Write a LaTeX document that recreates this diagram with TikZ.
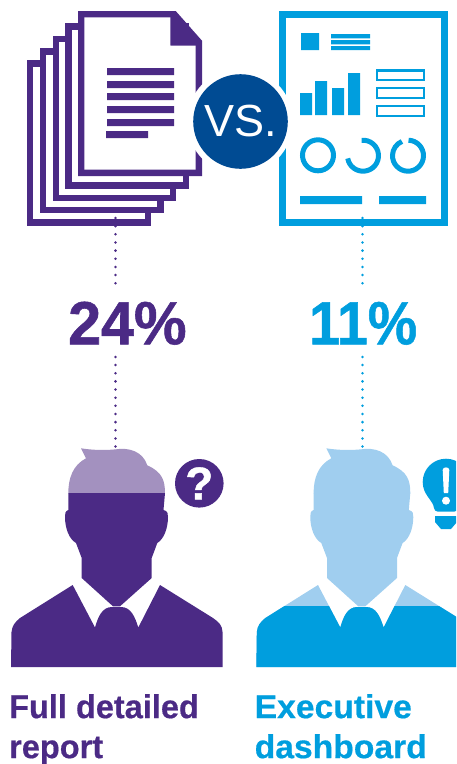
\documentclass[tikz,border=0pt]{standalone}
\usepackage{fontspec}
\setmainfont{Liberation Sans}
\newfontfamily\heavyface[BoldFeatures={FakeBold=0.9}]{Liberation Sans}
\newfontfamily\midface[BoldFeatures={FakeBold=0.5}]{Liberation Sans}
\definecolor{purp}{HTML}{4B2A85}
\definecolor{purplt}{HTML}{A391BF}
\definecolor{sky}{HTML}{009EDE}
\definecolor{skylt}{HTML}{A0CEEF}
\definecolor{navy}{HTML}{004B93}
\tikzset{
  sheet/.style={draw=purp,line width=6.3pt,fill=white,miter limit=10},
  ringline/.style={draw=sky,line width=5pt},
  minirect/.style={draw=sky,line width=2.2pt,fill=white},
  dotsP/.style={draw=purp,line width=2.8pt,line cap=round,dash pattern=on 0pt off 8.15pt},
  dotsS/.style={dotsP,draw=sky},
  pct/.style={anchor=base west,inner sep=0pt,font=\heavyface\bfseries\fontsize{61}{61}\selectfont},
  lbl/.style={anchor=north west,inner sep=0pt,align=left,font=\midface\bfseries\fontsize{33}{40}\selectfont}
}
\newcommand{\hairpath}{(81,448.3) -- (86,458.3) .. controls (73,465) and (68.3,478) .. (68.3,493.3) -- (165,493.3) .. controls (165,480) and (162,472) .. (147.3,465.3) .. controls (143,452) and (130,447) .. (115,449.4) .. controls (103,450.5) and (92,450) .. (81,448.3) -- cycle}
\newcommand{\facepath}{(68.3,493) -- (68.3,510) .. controls (65,511) and (65,514) .. (65,517) .. controls (65,528) and (69,539) .. (76,543) -- (81.7,558) -- (81.7,578) -- (113,606.3) -- (120,606.3) -- (151.7,578) -- (151.7,558) -- (157.3,543) .. controls (164,539) and (168,528) .. (168,517) .. controls (168,514) and (168,511) .. (163.5,510) -- (165,493) -- cycle}
\newcommand{\bodypath}{(72.7,585) -- (95,627.5) .. controls (98,617) and (102,607) .. (112,607) -- (121,607) .. controls (131,607) and (135,617) .. (138.3,627.5) -- (160,585) -- (213,618) .. controls (219,622) and (222.5,626) .. (222.5,632) -- (222.7,667) -- (11,667) -- (11.5,632) .. controls (12,626) and (15,622) .. (20,618) -- cycle}
\begin{document}
\begin{tikzpicture}[x=1pt,y=-1pt]
\useasboundingbox (0,0) rectangle (456,764);
\clip (0,0) rectangle (456,764);
% document stack
\draw[sheet] (30.15,63.45) rectangle (147.85,222.55);
\draw[sheet] (42.85,51.45) rectangle (160.55,210.15);
\draw[sheet] (55.85,39.15) rectangle (173.15,198.15);
\draw[sheet] (68.45,26.45) rectangle (186.15,185.55);
\fill[purp] (78,11) -- (175.7,11) -- (202,40.7) -- (202,176) -- (78,176) -- cycle;
\fill[white] (84.3,17.3) -- (170.3,17.3) -- (170.3,45.7) -- (195.7,45.7) -- (195.7,169.7) -- (84.3,169.7) -- cycle;
\fill[purp] (107,68) rectangle (174,75) (107,81) rectangle (174,88) (107,93) rectangle (174,100) (107,106) rectangle (174,113) (107,119) rectangle (174,126) (106,131) rectangle (148,138);
% dashboard
\draw[draw=sky,line width=7pt] (282.6,14.5) rectangle (444.4,222);
\fill[sky] (301,33) rectangle (319,50) (331,34) rectangle (370,38.3) (331,40) rectangle (370,44.3) (331,46) rectangle (370,50);
\fill[sky] (300,93) rectangle (312,115) (315,81) rectangle (327,115) (332,88) rectangle (344,115) (348,73) rectangle (360,115);
\draw[minirect] (376.8,70.4) rectangle (424.2,79.9);
\draw[minirect] (376.8,88.1) rectangle (424.2,97.6);
\draw[minirect] (376.8,106.1) rectangle (424.2,115.6);
\draw[ringline] (318,155.3) circle (15.5);
\draw[ringline] (363,155.7) ++(-95:15.5) arc (-95:170:15.5);
\draw[ringline] (408,155.7) ++(-88:15.5) arc (-88:247:15.5);
\fill[sky] (300,196) rectangle (362,204) (379,196) rectangle (426,204);
% vs badge
\fill[white] (240,121.5) circle (53);
\node[circle,fill=navy,minimum size=94.6pt,inner sep=0pt,text=white,font=\fontsize{45}{45}\selectfont] (vs) at (240.5,121.5) {VS.};
% percentages
\node[pct,text=purp,xscale=.97,transform shape] (pctL) at (68,344.3) {24\%};
\node[pct,text=sky,xscale=.91,transform shape] (pctR) at (309,344.3) {11\%};
% connectors
\coordinate (docEnd) at (115.5,218);
\coordinate (pctLtop) at (115.5,283.5);
\coordinate (pctLbot) at (115.5,356.9);
\coordinate (headL) at (115.5,447);
\coordinate (dashEnd) at (362.5,218);
\coordinate (pctRtop) at (362.5,283.5);
\coordinate (pctRbot) at (362.5,356.9);
\coordinate (headR) at (362.5,447);
\draw[dotsP] (docEnd) -- (pctLtop);
\draw[dotsP] (pctLbot) -- (headL);
\draw[dotsS] (dashEnd) -- (pctRtop);
\draw[dotsS] (pctRbot) -- (headR);
% left person
\fill[purplt] \hairpath;
\fill[purp] \facepath;
\fill[purp] \bodypath;
% right person
\begin{scope}[shift={(245.3,0)}]
\fill[skylt] \hairpath;
\fill[skylt] \facepath;
\fill[skylt] \bodypath;
\begin{scope}
\clip (0,606) rectangle (300,670);
\fill[sky] \bodypath;
\end{scope}
\end{scope}
% question icon
\node[circle,fill=purp,minimum size=48.6pt,inner sep=0pt,text=white,font=\heavyface\bfseries\fontsize{46}{46}\selectfont] (ques) at (199.3,483.3) {?};
% bulb icon
\fill[sky] (434,508) .. controls (433,500) and (422.7,495) .. (422.7,482) arc (180:360:23.3) .. controls (469.3,495) and (459,500) .. (458,508) .. controls (458,510) and (456,511.7) .. (454,511.7) -- (438,511.7) .. controls (436,511.7) and (434,510) .. (434,508) -- cycle;
\fill[sky] (435,516) -- (457,516) -- (457,522) -- (451,529) -- (441,529) -- (435,522) -- cycle;
\fill[white] (442.7,470) .. controls (442.7,466.5) and (449.3,466.5) .. (449.3,470) -- (448.2,493) -- (443.8,493) -- cycle;
\fill[white] (446,500.7) circle (4);
% labels
\node[lbl,text=purp,xscale=.985,transform shape] (lblL) at (9,694) {Full detailed\\report};
\node[lbl,text=sky,xscale=1.02,transform shape] (lblR) at (254.5,694) {Executive\\dashboard};
\end{tikzpicture}
\end{document}
